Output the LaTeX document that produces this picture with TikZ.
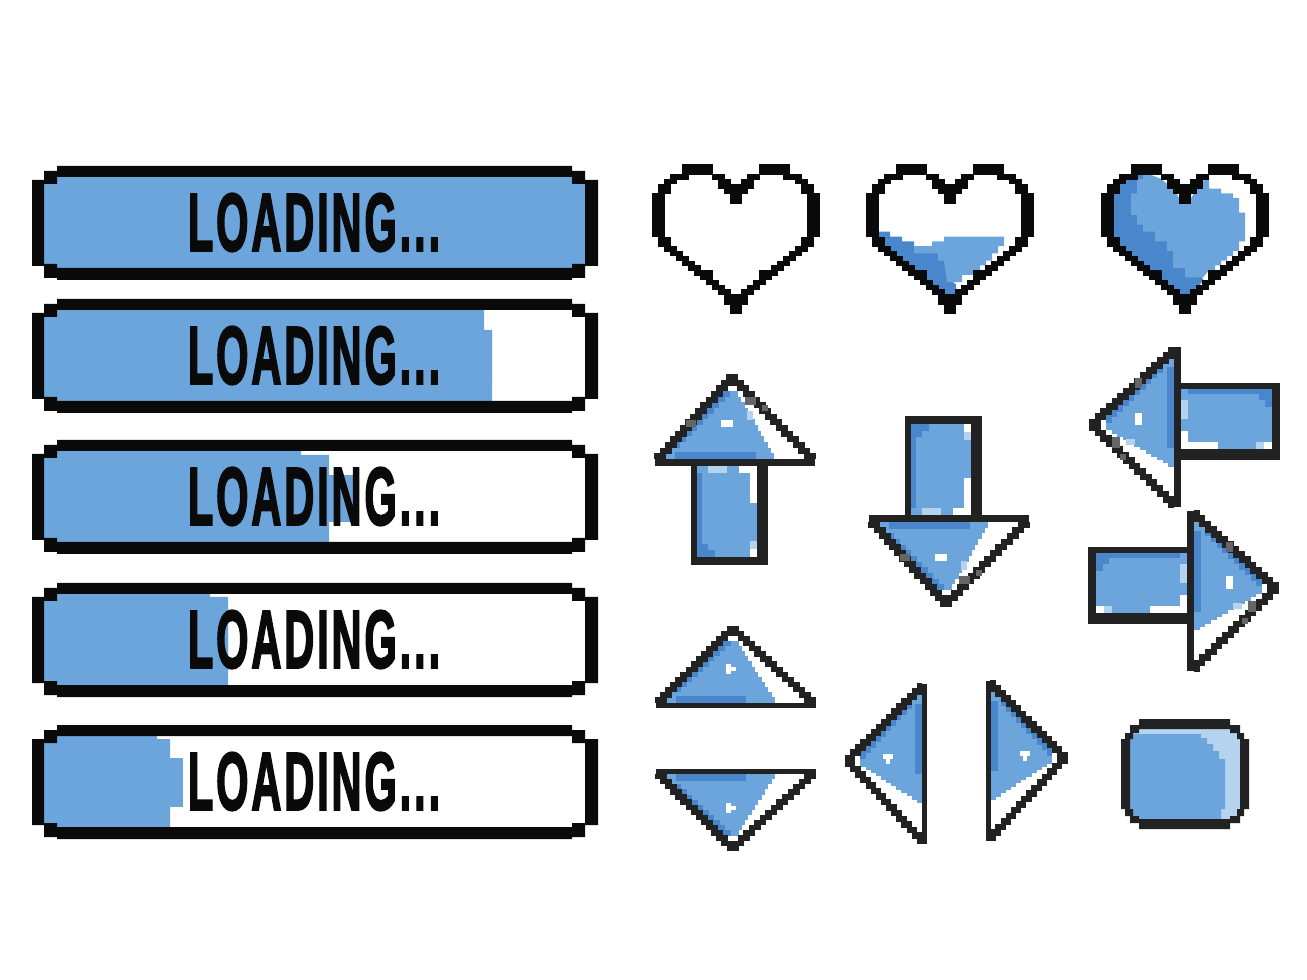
\documentclass[tikz,border=0pt]{standalone}
\usepackage{fontspec}
\usepackage{graphicx}
\usepackage{xcolor}
\newfontfamily\loadfont[FakeBold=3,LetterSpace=7]{Liberation Sans}
\definecolor{pixblack}{HTML}{0A0A0A}
\definecolor{pixdark}{HTML}{222222}
\definecolor{pixgrey}{HTML}{666666}
\definecolor{pixlight}{HTML}{6CA5DC}
\definecolor{pixdeep}{HTML}{4A86CC}
\definecolor{pixpale}{HTML}{B5D3EE}

\newcommand{\loadbar}[7]{
	\begin{scope}[shift={(32,#2)}]
		\fill[pixlight] (12,11) -- (#4,11) -- (#4,#5) -- (#3,#5) -- (#3,102) -- (12,102) -- cycle;
		\fill[pixlight] (#3,#6) rectangle (#7,82);
		\fill[pixblack,even odd rule]
			(25,0) -- (540,0) -- (540,5) -- (553,5) -- (553,14) -- (566,14) -- (566,100) -- (553,100) -- (553,112) -- (540,112) -- (540,114) -- (25,114) -- (25,112) -- (12,112) -- (12,100) -- (0,100) -- (0,14) -- (12,14) -- (12,5) -- (25,5) -- cycle
			(25,11) -- (540,11) -- (540,18) -- (553,18) -- (553,98) -- (540,98) -- (540,102) -- (25,102) -- (25,98) -- (12,98) -- (12,18) -- (25,18) -- cycle;
		\node (#1) at (282,56.5) [inner sep=0pt,text=pixblack] {\resizebox{2.52cm}{0.57cm}{\loadfont\bfseries LOADING...}};
	\end{scope}
}

\newcommand{\pixheart}{
	\foreach \r/\a/\b in {0/5/9,1/5/9,2/3/5,2/10/11,3/2/3,3/11/12,4/1/2,4/11/13,5/1/2,5/12/13,6/0/1,6/13/13,7/0/1,7/13/13,8/0/1,9/0/1,10/0/1,11/0/1,12/0/1,13/0/1,14/0/1,15/1/2,16/1/2,17/2/3,18/3/4,19/4/5,20/5/6,21/6/7,22/7/9,23/8/9,24/9/10,25/10/11,26/11/12,27/12/13,28/12/13,29/13/13,30/13/13}
	{
		\fill[pixblack] (\a,\r) rectangle (\b+1.2,\r+1.15);
		\fill[pixblack] (28-\a,\r) rectangle (26.8-\b,\r+1.15);
	}
}

\newcommand{\pixhead}[3]{
	\foreach \i [evaluate=\i as \ya using \i*(#1-#2)/15, evaluate=\i as \yb using (\i+1)*(#1-#2)/15, evaluate=\i as \xm using \i*5.33-(14-\i)*0.21, evaluate=\i as \xr using 3+(\i-3)*3.3] in {3,...,14}
	{
		\fill[pixlight] (-\xm-2,\ya) rectangle (\xr,\yb+0.2);
		\ifnum\i<13 \fill[pixdeep] (-\xm-2,\ya) rectangle (-\xm+9,\yb+0.2); \fi
	}
	\fill[pixdeep] (-60,#1-#2-7) rectangle (#3,#1-#2);
	\foreach \i [evaluate=\i as \ya using \i*(#1-#2)/15, evaluate=\i as \yb using (\i+1)*(#1-#2)/15, evaluate=\i as \xm using \i*5.33, evaluate=\i as \xs using (14-\i)*0.21] in {0,...,14}
	{
		\fill[pixdark] (-\xm-\xs-6,\ya) rectangle (-\xm-\xs+6,\yb+0.2);
		\fill[pixdark] (\xm-\xs-6,\ya) rectangle (\xm-\xs+6,\yb+0.2);
	}
	\fill[pixdark] (-80,#1-#2) rectangle (80,#1);
}

\newcommand{\pixarrow}{
	\pixhead{92}{7}{21}
	\foreach \xa/\ya/\xb/\yb/\col in {-38/92/22/183/pixlight,-38/99/-33/176/pixdeep,-38/176/-20/183/pixdeep,-33/170/-27/176/pixdeep,3.6/92/22/99/white,15/99/22/129/white,-27/92/-8/99/pixpale,15/167/22/175/pixpale,15/175/22/183/white,-14.5/46/-2/53/white,-49/46/-39/53/pixgrey,10/23/21/31/pixgrey,27/31/33/37/pixgrey,12/37/18/46/pixpale}
		\fill[\col] (\xa,\ya) rectangle (\xb,\yb);
	\fill[pixdark] (-44,92) rectangle (-38,191);
	\fill[pixdark] (22,92) rectangle (33,191);
	\fill[pixdark] (-44,183) rectangle (33,191);
}

\newcommand{\pixtri}{
	\pixhead{82}{5}{10}
	\fill[white] (-10,38) rectangle (-5,48);
	\fill[white] (-5,41) rectangle (0,45);
}

\begin{document}
\begin{tikzpicture}[x=0.01cm,y=-0.01cm]
	\useasboundingbox (0,0) rectangle (1307,980);

	\loadbar{barfull}{166}{553}{553}{14}{35}{553}
	\loadbar{barmost}{299}{460}{452}{31}{35}{460}
	\loadbar{barhalf}{440}{297}{269}{15}{35}{321}
	\loadbar{barthird}{583}{196}{178}{14}{35}{196}
	\loadbar{barlow}{725}{138}{125}{14}{33}{151}

	\begin{scope}[shift={(652,164.5)},x=0.06cm,y=-0.048cm]
		\pixheart
	\end{scope}
	\begin{scope}[shift={(866,164.5)},x=0.06cm,y=-0.048cm]
		\fill[pixdeep] (1,14) -- (4,14) -- (4,15) -- (6,15) -- (6,16) -- (8,16) -- (8,18) -- (13,18) -- (14,24) -- (15,25) -- (15,28) -- (14,29.5) -- (6,20) -- (1,16) -- cycle;
		\fill[pixlight] (13,15) -- (23,15) -- (23,17) -- (22,17) -- (22,18.5) -- (21,18.5) -- (21,20) -- (20,20) -- (20,21) -- (19,21) -- (19,22) -- (18,22) -- (18,23) -- (16,23) -- (16,24.5) -- (13.5,24.5) -- (13,20) -- (12,20) -- (12,18.5) -- (8,18.5) -- (8,17) -- (11,17) -- (11,16) -- (13,16) -- cycle;
		\pixheart
	\end{scope}
	\begin{scope}[shift={(1101,164.5)},x=0.06cm,y=-0.048cm]
		\fill[pixdeep] (7,1) -- (5,2) -- (3,3) -- (2,4) -- (1,6) -- (1,16) -- (6,20) -- (14,29.5) -- (15,28) -- (17,24) -- (14,14) -- (7,6) -- cycle;
		\fill[pixlight] (7,1) -- (8,2) -- (10,3) -- (12,5) -- (13,7) -- (14,8) -- (15,7) -- (16,5) -- (18,2) -- (18,5) -- (20,5) -- (20,6) -- (22,6) -- (22,7) -- (23,7) -- (23,10) -- (24,10) -- (24,16) -- (23,16) -- (23,18) -- (22,18) -- (22,19) -- (21,19) -- (21,20) -- (20,20) -- (20,21) -- (19,21) -- (19,22) -- (18,22) -- (17,23.5) -- (14,23.5) -- (14,21.5) -- (12,21.5) -- (12,18) -- (11,18) -- (11,16) -- (9,16) -- (9,14) -- (7,14) -- (7,12.5) -- (6,12.5) -- (6,10.5) -- (5,10.5) -- (5,6) -- (6,6) -- (6,3) -- (7,3) -- cycle;
		\pixheart
	\end{scope}

	\begin{scope}[shift={(735,374)}]
		\pixarrow
	\end{scope}
	\begin{scope}[shift={(949,607)},y=0.01cm]
		\pixarrow
	\end{scope}
	\begin{scope}[shift={(1089,427.5)},x={(0cm,-0.01cm)},y={(0.01cm,0cm)}]
		\pixarrow
	\end{scope}
	\begin{scope}[shift={(1279,591)},x={(0cm,-0.01cm)},y={(-0.01cm,0cm)}]
		\pixarrow
	\end{scope}

	\begin{scope}[shift={(735.5,625.5)}]
		\pixtri
	\end{scope}
	\begin{scope}[shift={(735.5,851)},y=0.01cm]
		\pixtri
	\end{scope}
	\begin{scope}[shift={(845,763.5)},x={(0cm,-0.01cm)},y={(0.01cm,0cm)}]
		\pixtri
	\end{scope}
	\begin{scope}[shift={(1067.5,760.5)},x={(0cm,-0.01cm)},y={(-0.01cm,0cm)}]
		\pixtri
	\end{scope}

	\begin{scope}[shift={(1121,719)}]
		\fill[pixpale] (9,10) rectangle (119,100);
		\fill[pixlight] (9,15) -- (80,15) -- (80,19) -- (86,19) -- (86,25) -- (92,25) -- (92,32) -- (98,32) -- (98,40) -- (104,40) -- (104,90) -- (100,90) -- (100,100) -- (9,100) -- cycle;
		\fill[pixdark,even odd rule]
			(18,0) -- (109,0) -- (109,6) -- (119,6) -- (119,14) -- (123,14) -- (123,20) -- (128,20) -- (128,90) -- (123,90) -- (123,97) -- (119,97) -- (119,104) -- (109,104) -- (109,110) -- (18,110) -- (18,104) -- (9,104) -- (9,97) -- (4,97) -- (4,90) -- (0,90) -- (0,20) -- (4,20) -- (4,14) -- (9,14) -- (9,6) -- (18,6) -- cycle
			(18,10) -- (109,10) -- (109,14) -- (116,14) -- (116,20) -- (119,20) -- (119,90) -- (116,90) -- (116,97) -- (109,97) -- (109,100) -- (18,100) -- (18,97) -- (12,97) -- (12,90) -- (9,90) -- (9,20) -- (12,20) -- (12,14) -- (18,14) -- cycle;
	\end{scope}
\end{tikzpicture}
\end{document}
